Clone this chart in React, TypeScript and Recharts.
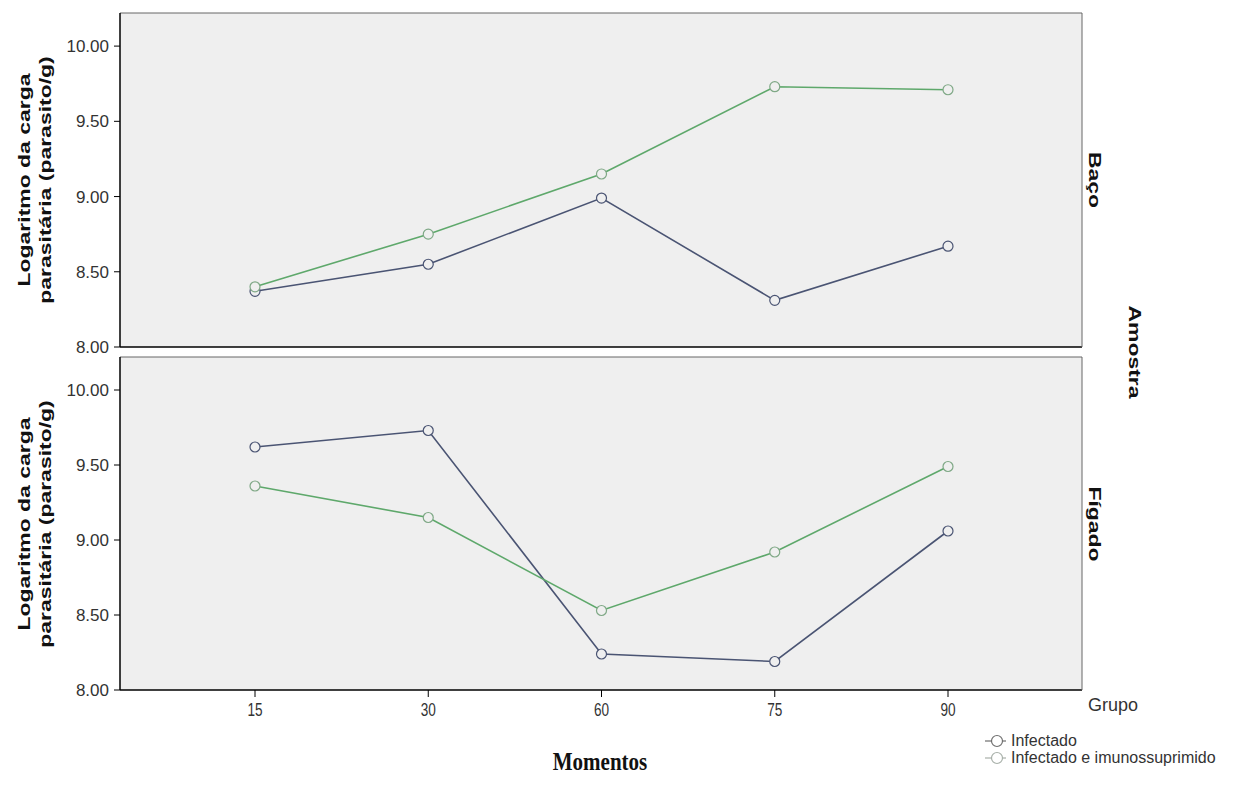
import { CartesianGrid, Line, LineChart, XAxis, YAxis } from "recharts";

// time points (days)
const momentos = ["15", "30", "60", "75", "90"];

// log parasite load, spleen (Baço)
const bacoInfectado = [8.37, 8.55, 8.99, 8.31, 8.67];
const bacoImuno = [8.4, 8.75, 9.15, 9.73, 9.71];

// log parasite load, liver (Fígado)
const figadoInfectado = [9.62, 9.73, 8.24, 8.19, 9.06];
const figadoImuno = [9.36, 9.15, 8.53, 8.92, 9.49];

const yTicks = [8, 8.5, 9, 9.5, 10];

const BLUE = "#4a5473";
const GREEN = "#5ea86b";
const sans = "Liberation Sans, Arial, sans-serif";

const toRows = (inf: number[], imu: number[]) =>
	momentos.map((m, i) => ({ momento: m, infectado: inf[i], imuno: imu[i] }));

const XTick = ({ x, y, payload }: any) => (
	<g transform={`translate(${x},${y})`}>
		<text
			textAnchor="middle"
			dy="0.71em"
			fontSize={17}
			fill="#333"
			fontFamily={sans}
			transform="scale(0.8,1.12)"
		>
			{payload.value}
		</text>
	</g>
);

const Panel = ({
	data,
	height,
	top,
	bottom,
	showTicks,
}: {
	data: Array<{ momento: string; infectado: number; imuno: number }>;
	height: number;
	top: number;
	bottom: number;
	showTicks: boolean;
}) => (
	<LineChart
		width={1259}
		height={height}
		data={data}
		margin={{ top, right: 176, bottom, left: 60 }}
		style={{ overflow: "visible" }}
	>
		<CartesianGrid fill="#efefef" stroke="none" horizontal={false} vertical={false} />
		<XAxis
			dataKey="momento"
			padding={{ left: 135, right: 134 }}
			height={showTicks ? 30 : 1}
			tick={showTicks ? <XTick /> : false}
			tickLine={showTicks ? { stroke: "#000" } : false}
			tickSize={7}
			tickMargin={5}
			axisLine={{ stroke: "#000", strokeWidth: 1.5 }}
		/>
		<XAxis
			xAxisId="top"
			orientation="top"
			dataKey="momento"
			height={1}
			tick={false}
			tickLine={false}
			axisLine={{ stroke: "#666" }}
		/>
		<YAxis
			domain={[8, 10.22]}
			ticks={yTicks}
			interval={0}
			allowDataOverflow
			width={60}
			tickSize={6}
			tickMargin={5}
			tickFormatter={(v: number) => v.toFixed(2)}
			tick={{ fontSize: 17, fill: "#333", fontFamily: sans }}
			tickLine={{ stroke: "#000" }}
			axisLine={{ stroke: "#000", strokeWidth: 1.5 }}
		/>
		<YAxis
			yAxisId="right"
			orientation="right"
			width={1}
			tick={false}
			tickLine={false}
			axisLine={{ stroke: "#666" }}
		/>
		<Line
			dataKey="infectado"
			stroke={BLUE}
			strokeWidth={1.6}
			dot={{ r: 5, stroke: BLUE, strokeWidth: 1.2, fill: "#efefef" }}
			isAnimationActive={false}
		/>
		<Line
			dataKey="imuno"
			stroke={GREEN}
			strokeWidth={1.6}
			dot={{ r: 5, stroke: "#7fa886", strokeWidth: 1.2, fill: "#efefef" }}
			isAnimationActive={false}
		/>
	</LineChart>
);

const RotLabel = ({
	cx,
	cy,
	angle,
	children,
}: {
	cx: number;
	cy: number;
	angle: number;
	children: any;
}) => (
	<div
		style={{
			position: "absolute",
			left: cx,
			top: cy,
			transform: `translate(-50%,-50%) rotate(${angle}deg) scale(1.35,1)`,
			fontFamily: sans,
			fontWeight: "bold",
			fontSize: 17,
			lineHeight: "21px",
			textAlign: "center",
			whiteSpace: "nowrap",
			color: "#111",
		}}
	>
		{children}
	</div>
);

const LegendIcon = ({ color }: { color: string }) => (
	<svg width={25} height={14} style={{ verticalAlign: "-2px", marginRight: 1 }}>
		<line x1={0} y1={7} x2={21} y2={7} stroke={color} strokeWidth={1.2} />
		<circle cx={12} cy={7} r={5.5} fill="#fff" stroke={color} strokeWidth={1.2} />
	</svg>
);

export default function App() {
	return (
		<div
			style={{
				position: "absolute",
				left: 0,
				top: 0,
				width: 1259,
				height: 792,
				background: "#fff",
				overflow: "hidden",
			}}
		>
			<div style={{ position: "absolute", left: 0, top: 350 }}>
				<Panel data={toRows(figadoInfectado, figadoImuno)} height={380} top={6} bottom={10} showTicks />
			</div>
			<div style={{ position: "absolute", left: 0, top: 0 }}>
				<Panel data={toRows(bacoInfectado, bacoImuno)} height={362} top={12} bottom={14} showTicks={false} />
			</div>

			<RotLabel cx={35} cy={180} angle={-90}>
				Logaritmo da carga
				<br />
				parasitária (parasito/g)
			</RotLabel>
			<RotLabel cx={35} cy={524} angle={-90}>
				Logaritmo da carga
				<br />
				parasitária (parasito/g)
			</RotLabel>

			<RotLabel cx={1094} cy={180} angle={90}>
				Baço
			</RotLabel>
			<RotLabel cx={1094} cy={524} angle={90}>
				Fígado
			</RotLabel>
			<RotLabel cx={1134} cy={352} angle={90}>
				Amostra
			</RotLabel>

			<div
				style={{
					position: "absolute",
					left: 600,
					top: 762,
					transform: "translate(-50%,-50%) scale(1,1.2)",
					fontFamily: "Liberation Serif, Times New Roman, serif",
					fontWeight: "bold",
					fontSize: 21,
					color: "#111",
				}}
			>
				Momentos
			</div>

			<div
				style={{
					position: "absolute",
					left: 1088,
					top: 695,
					fontFamily: sans,
					fontSize: 18,
					color: "#333",
				}}
			>
				Grupo
			</div>
			<div
				style={{
					position: "absolute",
					left: 985,
					top: 732,
					fontFamily: sans,
					fontSize: 16,
					color: "#333",
					lineHeight: "17px",
					whiteSpace: "nowrap",
				}}
			>
				<div>
					<LegendIcon color="#6f6f6f" />
					Infectado
				</div>
				<div>
					<LegendIcon color="#a8b0a9" />
					Infectado e imunossuprimido
				</div>
			</div>
		</div>
	);
}
